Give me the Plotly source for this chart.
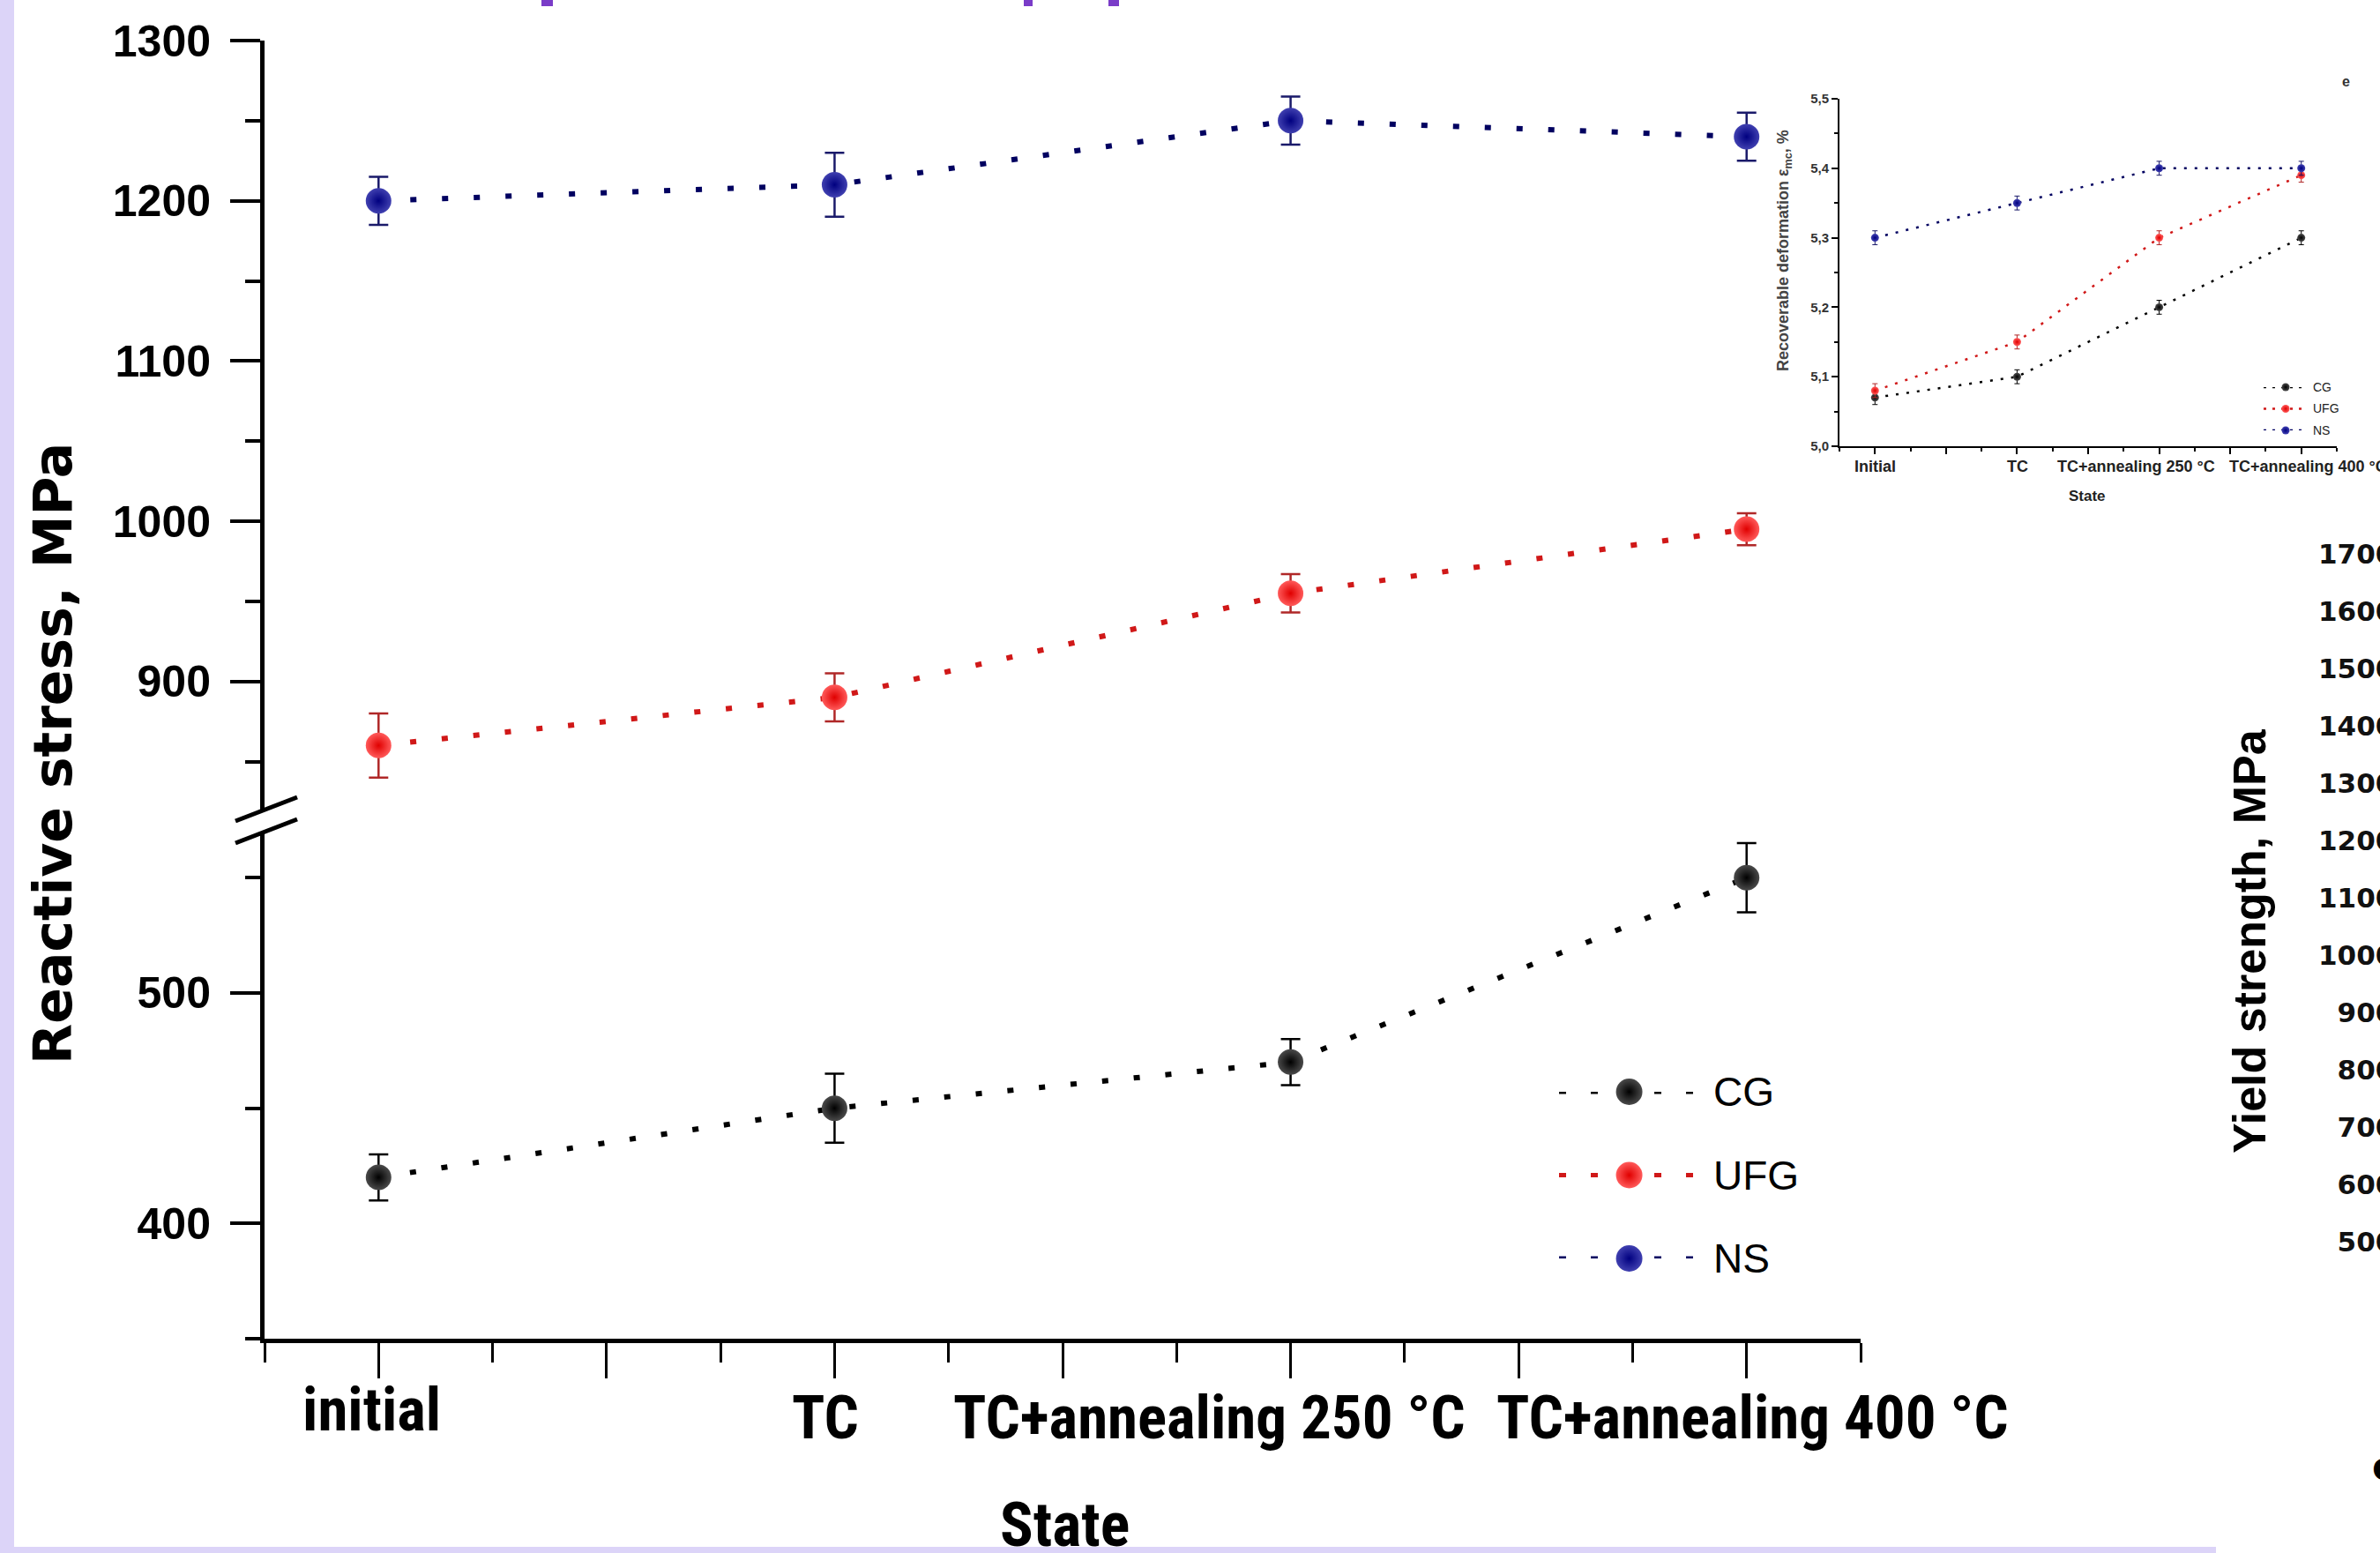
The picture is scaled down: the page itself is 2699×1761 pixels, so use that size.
import plotly.graph_objects as go

W, H = 2699, 1761

# ---------------- data (main chart) ----------------
states = ["initial", "TC", "TC+annealing 250 °C", "TC+annealing 400 °C"]
state_pos = [0, 2, 4, 6]

cg = [420, 450, 470, 550]
cg_err = [10, 15, 10, 15]
ufg = [860, 890, 955, 995]
ufg_err = [20, 15, 12, 10]
ns = [1200, 1210, 1250, 1240]
ns_err = [15, 20, 15, 15]

series_names = ["CG", "UFG", "NS"]

lower_ticks = [400, 500]
upper_ticks = [900, 1000, 1100, 1200, 1300]

# ---------------- data (inset chart) ----------------
inset_states = ["Initial", "TC", "TC+annealing 250 °C", "TC+annealing 400 °C"]
inset_cg = [5.07, 5.10, 5.20, 5.30]
inset_ufg = [5.08, 5.15, 5.30, 5.39]
inset_ns = [5.30, 5.35, 5.40, 5.40]
inset_err = [0.01, 0.01, 0.01, 0.01]
inset_ticks = [5.0, 5.1, 5.2, 5.3, 5.4, 5.5]
inset_ticklabels = ["5,0", "5,1", "5,2", "5,3", "5,4", "5,5"]

# ---------------- data (cut-off neighbour chart) ----------------
yield_ticks = [500, 600, 700, 800, 900, 1000, 1100, 1200, 1300, 1400, 1500, 1600, 1700]


def fx(p):
    return p / W


def fy(p):
    return 1 - p / H


NARROW_BOLD = "Liberation Sans Narrow, Arial Narrow, Roboto Condensed, DejaVu Sans Condensed, Liberation Sans"
ARIAL = "Liberation Sans, Arial, sans-serif"

col = {
    "CG": dict(line="#000000", c="#4a4a4a", e="#000000", err="#000000"),
    "UFG": dict(line="#d01818", c="#ff5a5a", e="#e00000", err="#b02828"),
    "NS": dict(line="#000060", c="#4040b0", e="#000080", err="#1a1a6a"),
}

fig = go.Figure()

# main series
for name, vals, errs, ya in [("CG", cg, cg_err, "y"), ("UFG", ufg, ufg_err, "y2"), ("NS", ns, ns_err, "y2")]:
    c = col[name]
    fig.add_trace(go.Scatter(
        x=state_pos, y=vals, mode="lines+markers", name=name,
        xaxis="x", yaxis=ya, cliponaxis=False,
        line=dict(color=c["line"], width=6, dash="7px,29px"),
        marker=dict(size=29, color=c["c"], gradient=dict(type="radial", color=c["e"]), line=dict(width=0)),
        error_y=dict(type="data", array=errs, color=c["err"], thickness=2.5, width=11),
    ))

# inset series
for name, vals in [("CG", inset_cg), ("UFG", inset_ufg), ("NS", inset_ns)]:
    c = col[name]
    fig.add_trace(go.Scatter(
        x=state_pos, y=vals, mode="lines+markers", name=name,
        xaxis="x3", yaxis="y3", cliponaxis=False,
        line=dict(color=c["line"], width=2.5, dash="3px,9px"),
        marker=dict(size=9, color=c["c"], gradient=dict(type="radial", color=c["e"]), line=dict(width=0)),
        error_y=dict(type="data", array=inset_err, color=c["err"], thickness=1, width=3),
    ))

# main legend (manual, on a hidden helper axis)
for i, name in enumerate(series_names):
    c = col[name]
    r = 2 - i
    fig.add_trace(go.Scatter(x=[0, 1], y=[r, r], mode="lines", xaxis="x6", yaxis="y6",
                             line=dict(color=c["line"], width=5, dash="8px,28px"), cliponaxis=False))
    fig.add_trace(go.Scatter(x=[0.52], y=[r], mode="markers", xaxis="x6", yaxis="y6", cliponaxis=False,
                             marker=dict(size=30, color=c["c"], gradient=dict(type="radial", color=c["e"]))))
# inset legend
for i, name in enumerate(series_names):
    c = col[name]
    r = 2 - i
    fig.add_trace(go.Scatter(x=[0, 1], y=[r, r], mode="lines", xaxis="x7", yaxis="y7",
                             line=dict(color=c["line"], width=2.5, dash="3px,7px"), cliponaxis=False))
    fig.add_trace(go.Scatter(x=[0.5], y=[r], mode="markers", xaxis="x7", yaxis="y7", cliponaxis=False,
                             marker=dict(size=9, color=c["c"], gradient=dict(type="radial", color=c["e"]))))

# helper trace for the cut-off neighbour axis
fig.add_trace(go.Scatter(x=[0.5], y=[1000], mode="markers", marker=dict(size=1, opacity=0),
                         xaxis="x5", yaxis="y5", showlegend=False))

ax_common = dict(showgrid=False, zeroline=False, showline=True, linecolor="black", ticks="outside",
                 tickcolor="black", automargin=False)
hidden = dict(visible=False, automargin=False, showgrid=False, zeroline=False)

fig.update_layout(
    template="none",
    width=W, height=H, margin=dict(l=0, r=0, t=0, b=0, pad=0, autoexpand=False),
    paper_bgcolor="white", plot_bgcolor="rgba(0,0,0,0)", showlegend=False,
    xaxis=dict(domain=[fx(300), fx(2110)], range=[-0.5, 6.5], anchor="y", linewidth=5,
               tickmode="linear", tick0=0, dtick=1, ticklen=40, tickwidth=3, showticklabels=False,
               minor=dict(ticks="outside", tickmode="linear", tick0=-0.5, dtick=0.5, ticklen=22, tickwidth=3, tickcolor="black"),
               **ax_common),
    yaxis=dict(domain=[fy(1518), fy(943)], range=[350, 570], anchor="x", linewidth=5,
               tickmode="array", tickvals=lower_ticks, ticklen=34, tickwidth=4,
               tickfont=dict(family=ARIAL, size=50, color="black", weight="bold"), ticklabelstandoff=12,
               minor=dict(ticks="outside", tickmode="linear", tick0=0, dtick=50, ticklen=17, tickwidth=4, tickcolor="black"),
               **ax_common),
    yaxis2=dict(domain=[fy(918), fy(46)], range=[820, 1300], anchor="x", linewidth=5,
                tickmode="array", tickvals=upper_ticks, ticklen=34, tickwidth=4,
                tickfont=dict(family=ARIAL, size=50, color="black", weight="bold"), ticklabelstandoff=12,
                minor=dict(ticks="outside", tickmode="linear", tick0=0, dtick=50, ticklen=17, tickwidth=4, tickcolor="black"),
                **ax_common),
    xaxis3=dict(domain=[fx(2086), fx(2650)], range=[-0.5, 6.5], anchor="y3", linewidth=2,
                tickmode="linear", tick0=0, dtick=1, ticklen=7, tickwidth=1.5, showticklabels=False,
                minor=dict(ticks="outside", tickmode="linear", tick0=-0.5, dtick=0.5, ticklen=4, tickwidth=1.5, tickcolor="black"),
                **ax_common),
    yaxis3=dict(domain=[fy(506), fy(112)], range=[5.0, 5.5], anchor="x3", linewidth=2,
                tickmode="array", tickvals=inset_ticks, ticktext=inset_ticklabels, ticklen=7, tickwidth=1.5,
                tickfont=dict(family=ARIAL, size=15, color="#333", weight="bold"),
                minor=dict(ticks="outside", tickmode="linear", tick0=5.0, dtick=0.05, ticklen=4, tickwidth=1.5, tickcolor="black"),
                **ax_common),
    xaxis5=dict(domain=[0.999, 1.0], range=[0, 1], anchor="y5", **hidden),
    yaxis5=dict(domain=[fy(1440.5), fy(595.5)], range=[450, 1750], anchor="x5", side="left", automargin=False,
                showline=False, showgrid=False, zeroline=False, ticks="", tickmode="array", tickvals=yield_ticks,
                tickfont=dict(family="DejaVu Sans", size=31, color="#111", weight="bold"), ticklabelstandoff=-20),
    xaxis6=dict(domain=[fx(1768), fx(1921)], range=[0, 1], anchor="y6", **hidden),
    yaxis6=dict(domain=[fy(1427), fy(1238)], range=[0, 2], anchor="x6", **hidden),
    xaxis7=dict(domain=[fx(2567), fx(2617)], range=[0, 1], anchor="y7", **hidden),
    yaxis7=dict(domain=[fy(488), fy(439)], range=[0, 2], anchor="x7", **hidden),
)

ann = []
# main x tick labels
main_shift = [-8, -10, -92, 7]
main_y = [1598, 1607, 1607, 1607]
for s, p, dx, yy in zip(states, state_pos, main_shift, main_y):
    ann.append(dict(text=s, x=p, xref="x", y=fy(yy), yref="paper", xshift=dx, showarrow=False,
                    xanchor="center", yanchor="middle", font=dict(family=NARROW_BOLD, size=69, color="black", weight="bold")))
# inset x tick labels
inset_shift = [0, 1, -26, 8]
for s, p, dx in zip(inset_states, state_pos, inset_shift):
    ann.append(dict(text=s, x=p, xref="x3", y=fy(529), yref="paper", xshift=dx, showarrow=False,
                    xanchor="center", yanchor="middle", font=dict(family=ARIAL, size=18, color="#222", weight="bold")))


def label(text, px, py, size, family, angle=0, color="black", bold=True, xa="center"):
    ann.append(dict(text=text, x=fx(px), y=fy(py), xref="paper", yref="paper", showarrow=False,
                    xanchor=xa, yanchor="middle", textangle=angle,
                    font=dict(family=family, size=size, color=color, weight="bold" if bold else "normal")))


label("State", 1207, 1729, 70, NARROW_BOLD)
label("Reactive stress, MPa", 60, 855, 60, "DejaVu Sans", angle=-90)
label("State", 2367, 562, 17, ARIAL, color="#222")
label("Recoverable deformation ε<sub>mc</sub>, %", 2023, 284, 18, ARIAL, angle=-90, color="#444")
label("Yield strength, MPa", 2551, 1067, 52, ARIAL, angle=-90)
label("e", 2660, 92, 16, ARIAL, color="#333")
label("c", 2688, 1662, 44, "DejaVu Sans", xa="left")

# legend labels
for i, name in enumerate(series_names):
    ann.append(dict(text=name, x=1, xref="x6", y=2 - i, yref="y6", xshift=20, showarrow=False, xanchor="left",
                    yanchor="middle", font=dict(family=ARIAL, size=46, color="black")))
    ann.append(dict(text=name, x=1, xref="x7", y=2 - i, yref="y7", xshift=4, showarrow=False, xanchor="left",
                    yanchor="middle", font=dict(family=ARIAL, size=14, color="#222")))
fig.update_layout(annotations=ann)

shapes = [
    # lavender strips of the page
    dict(type="rect", xref="paper", yref="paper", x0=0, x1=fx(16), y0=0, y1=1, fillcolor="#dcd4f8", line=dict(width=0), layer="above"),
    dict(type="rect", xref="paper", yref="paper", x0=0, x1=fx(2513), y0=0, y1=1 - 1754 / H, fillcolor="#dcd4f8", line=dict(width=0), layer="above"),
    # axis break marks
    dict(type="line", xref="paper", yref="paper", x0=fx(267), y0=fy(931), x1=fx(337), y1=fy(904), line=dict(color="black", width=5)),
    dict(type="line", xref="paper", yref="paper", x0=fx(267), y0=fy(956), x1=fx(337), y1=fy(929), line=dict(color="black", width=5)),
]
# purple fragments of a cut-off caption at the top edge
for a, b in [(614, 627), (1161, 1171), (1257, 1269)]:
    shapes.append(dict(type="rect", xref="paper", yref="paper", x0=fx(a), x1=fx(b), y0=fy(7), y1=1,
                       fillcolor="#7a3cc8", line=dict(width=0)))
fig.update_layout(shapes=shapes)

fig.write_html("out.html", config={"displayModeBar": False})
